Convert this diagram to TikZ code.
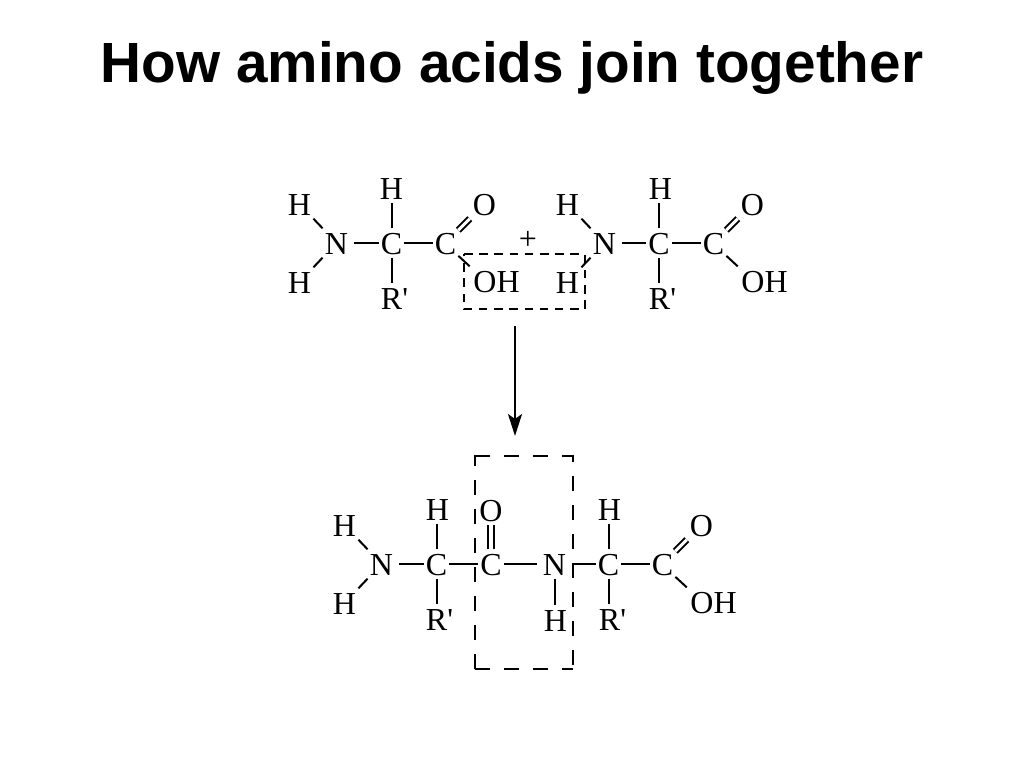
\documentclass[tikz,border=0pt]{standalone}
\usepackage{fontspec}
\setmainfont{Liberation Serif}
\newfontfamily\titlefont{Liberation Sans}[BoldFont={Liberation Sans Bold}]
\usetikzlibrary{arrows.meta}
\newcommand{\Rp}{R\textquotesingle}
\tikzset{
  atom/.style={xshift=.5pt,inner xsep=3.5pt,inner ysep=3.5pt,text height=22pt,text depth=0pt,font=\fontsize{32}{32}\selectfont},
  atomN/.style={atom,inner xsep=6pt},
  atomC/.style={atom,inner xsep=2pt},
  plain/.style={inner sep=0pt,text height=22pt,text depth=0pt,font=\fontsize{32}{32}\selectfont},
  bond/.style={line width=2pt,black},
  dbond/.style={line width=2pt,double,double distance=3pt,draw=black},
  vdbond/.style={line width=2pt,double,double distance=4pt,draw=black},
  box1/.style={line width=2pt,dash pattern=on 8.5pt off 6.7pt},
  box2/.style={line width=2pt,dash pattern=on 15pt off 14pt},
  bigarrow/.style={line width=2pt,-{Stealth[length=22pt,width=14pt,inset=5pt]}}
}
\begin{document}
\begin{tikzpicture}[x=1pt,y=-1pt]
\useasboundingbox (0,0) rectangle (1024,768);
\node[font=\titlefont\bfseries\fontsize{56.7}{56.7}\selectfont,inner sep=0pt,anchor=base] (title) at (512,82) {How amino acids join together};
% left reactant
\node[atom] (aH1) at (299,204) {H};
\node[atom] (aH2) at (299,282) {H};
\node[atomN] (aN) at (336,243) {N};
\node[atomC] (aC) at (391,243) {C};
\node[atomC] (aC2) at (445,243) {C};
\node[atom] (aHt) at (391,188) {H};
\node[atom] (aR) at (394,298) {\Rp};
\node[atom] (aO) at (484,204) {O};
\node[atom] (aOH) at (496,281) {OH};
\node[plain] (plus) at (528,238) {+};
\draw[bond] (aH1) -- (aN);
\draw[bond] (aH2) -- (aN);
\draw[bond] (aN) -- (aC);
\draw[bond] (aC) -- (aC2);
\draw[bond] (aC) -- (aHt);
\draw[bond] (aC.south) -- (aC.south |- aR.north);
\draw[dbond] (aC2) -- (aO);
\draw[bond] (aC2.-45) -- (aOH.north west);
% right reactant
\node[atom] (bH1) at (567,204) {H};
\node[atom] (bH2) at (567,282) {H};
\node[atomN] (bN) at (604,243) {N};
\node[atomC] (bC) at (658.5,243) {C};
\node[atomC] (bC2) at (713,243) {C};
\node[atom] (bHt) at (660,188) {H};
\node[atom] (bR) at (662,298) {\Rp};
\node[atom] (bO) at (752,204) {O};
\node[atom] (bOH) at (764,281) {OH};
\draw[bond] (bH1) -- (bN);
\draw[bond] (bH2) -- (bN);
\draw[bond] (bN) -- (bC);
\draw[bond] (bC) -- (bC2);
\draw[bond] (bC.north) -- (bC.north |- bHt.south);
\draw[bond] (bC.south) -- (bC.south |- bR.north);
\draw[dbond] (bC2) -- (bO);
\draw[bond] (bC2.-45) -- (bOH.north west);
% dashed box round the water
\draw[box1] (464,254) -- (585,254) -- (585,309) -- (464,309) -- cycle;
% reaction arrow
\coordinate (arrowfrom) at (515,326);
\coordinate (arrowto) at (515,436);
\draw[bigarrow] (arrowfrom) -- (arrowto);
% product
\node[atom] (cH1) at (344,525) {H};
\node[atom] (cH2) at (344,603) {H};
\node[atomN] (cN) at (381,564) {N};
\node[atomC] (cC) at (436,564) {C};
\node[atomC] (cC2) at (490.5,564) {C};
\node[atom] (cHt) at (437,509) {H};
\node[atom] (cR) at (439,619) {\Rp};
\node[atom] (cO) at (490.5,510) {O};
\node[atomN] (cN2) at (554,564) {N};
\node[atom] (cH3) at (555,620) {H};
\node[atomC] (cC3) at (608,564) {C};
\node[atom] (cHt2) at (609,509) {H};
\node[atom] (cR2) at (612,619) {\Rp};
\node[atomC] (cC4) at (662,564) {C};
\node[atom] (cO2) at (701,525) {O};
\node[atom] (cOH) at (713,602) {OH};
\draw[bond] (cH1) -- (cN);
\draw[bond] (cH2) -- (cN);
\draw[bond] (cN) -- (cC);
\draw[bond] (cC) -- (cC2);
\draw[bond] (cC2) -- (cN2);
\draw[bond] (cN2) -- (cC3);
\draw[bond] (cC3) -- (cC4);
\draw[bond] (cC.north) -- (cC.north |- cHt.south);
\draw[bond] (cC.south) -- (cC.south |- cR.north);
\draw[vdbond] (cC2) -- (cO);
\draw[bond] (cN2.south) -- (cN2.south |- cH3.north);
\draw[bond] (cC3.north) -- (cC3.north |- cHt2.south);
\draw[bond] (cC3.south) -- (cC3.south |- cR2.north);
\draw[dbond] (cC4) -- (cO2);
\draw[bond] (cC4.-45) -- (cOH.north west);
% dashed box round the peptide bond
\draw[box2] (475,456) -- (573,456) (475,669) -- (573,669) (475,669) -- (475,455);
\draw[box2,dash phase=8pt] (573,455) -- (573,669);
\end{tikzpicture}
\end{document}
